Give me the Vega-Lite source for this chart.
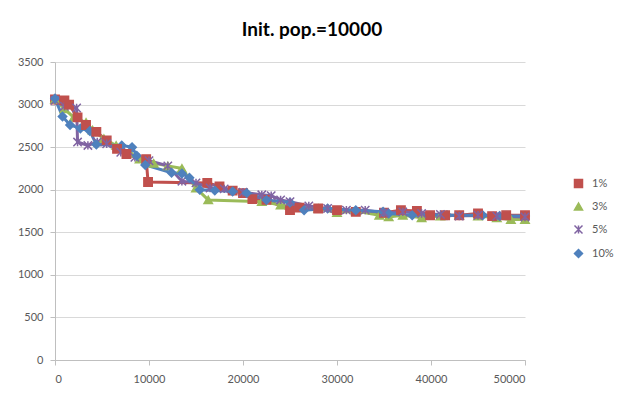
{
  "$schema": "https://vega.github.io/schema/vega-lite/v6.json",
  "width": 470,
  "height": 298,
  "autosize": {"type": "none"},
  "padding": {"left": 55, "top": 62, "right": 101, "bottom": 33},
  "background": "white",
  "title": {"text": "Init. pop.=10000", "font": "Lato", "fontSize": 19, "fontWeight": "bold", "color": "#000000", "anchor": "middle", "dx": 22, "offset": 16},
  "config": {
    "view": {"stroke": null},
    "axis": {"labelFont": "Lato", "labelFontSize": 11, "labelColor": "#595959", "domainColor": "#BFBFBF", "tickColor": "#BFBFBF", "gridColor": "#D9D9D9", "tickSize": 5, "title": null}
  },
  "data": {"values": [
    {"s":"1%","i":0,"x":0,"y":3060},{"s":"1%","i":1,"x":1000,"y":3050},{"s":"1%","i":2,"x":1500,"y":3000},{"s":"1%","i":3,"x":2400,"y":2850},{"s":"1%","i":4,"x":3300,"y":2760},{"s":"1%","i":5,"x":4400,"y":2680},{"s":"1%","i":6,"x":5500,"y":2580},{"s":"1%","i":7,"x":6600,"y":2480},{"s":"1%","i":8,"x":7600,"y":2420},{"s":"1%","i":9,"x":9700,"y":2360},{"s":"1%","i":10,"x":9900,"y":2090},{"s":"1%","i":11,"x":16200,"y":2080},{"s":"1%","i":12,"x":17500,"y":2040},{"s":"1%","i":13,"x":18900,"y":1990},{"s":"1%","i":14,"x":20000,"y":1960},{"s":"1%","i":15,"x":21000,"y":1890},{"s":"1%","i":16,"x":22500,"y":1880},{"s":"1%","i":17,"x":25000,"y":1760},{"s":"1%","i":18,"x":26000,"y":1790},{"s":"1%","i":19,"x":28000,"y":1780},{"s":"1%","i":20,"x":30000,"y":1760},{"s":"1%","i":21,"x":32000,"y":1740},{"s":"1%","i":22,"x":35000,"y":1730},{"s":"1%","i":23,"x":36800,"y":1760},{"s":"1%","i":24,"x":38500,"y":1750},{"s":"1%","i":25,"x":39900,"y":1700},{"s":"1%","i":26,"x":41500,"y":1700},{"s":"1%","i":27,"x":43000,"y":1700},{"s":"1%","i":28,"x":45000,"y":1720},{"s":"1%","i":29,"x":46500,"y":1690},{"s":"1%","i":30,"x":48000,"y":1700},{"s":"1%","i":31,"x":50000,"y":1700},
    {"s":"3%","i":0,"x":0,"y":3060},{"s":"3%","i":1,"x":1000,"y":2950},{"s":"3%","i":2,"x":2000,"y":2850},{"s":"3%","i":3,"x":3300,"y":2790},{"s":"3%","i":4,"x":4000,"y":2700},{"s":"3%","i":5,"x":5200,"y":2600},{"s":"3%","i":6,"x":6500,"y":2520},{"s":"3%","i":7,"x":8000,"y":2430},{"s":"3%","i":8,"x":9000,"y":2360},{"s":"3%","i":9,"x":10500,"y":2310},{"s":"3%","i":10,"x":12000,"y":2280},{"s":"3%","i":11,"x":13500,"y":2250},{"s":"3%","i":12,"x":15000,"y":2020},{"s":"3%","i":13,"x":16300,"y":1880},{"s":"3%","i":14,"x":22000,"y":1860},{"s":"3%","i":15,"x":24000,"y":1820},{"s":"3%","i":16,"x":26000,"y":1790},{"s":"3%","i":17,"x":28000,"y":1780},{"s":"3%","i":18,"x":30000,"y":1730},{"s":"3%","i":19,"x":32000,"y":1750},{"s":"3%","i":20,"x":34500,"y":1700},{"s":"3%","i":21,"x":35500,"y":1680},{"s":"3%","i":22,"x":37000,"y":1700},{"s":"3%","i":23,"x":39000,"y":1670},{"s":"3%","i":24,"x":41000,"y":1690},{"s":"3%","i":25,"x":43000,"y":1700},{"s":"3%","i":26,"x":45000,"y":1690},{"s":"3%","i":27,"x":47000,"y":1670},{"s":"3%","i":28,"x":48500,"y":1650},{"s":"3%","i":29,"x":50000,"y":1650},
    {"s":"5%","i":0,"x":0,"y":3050},{"s":"5%","i":1,"x":1000,"y":2980},{"s":"5%","i":2,"x":2300,"y":2960},{"s":"5%","i":3,"x":2400,"y":2560},{"s":"5%","i":4,"x":3500,"y":2520},{"s":"5%","i":5,"x":4500,"y":2560},{"s":"5%","i":6,"x":5500,"y":2540},{"s":"5%","i":7,"x":7000,"y":2440},{"s":"5%","i":8,"x":8500,"y":2380},{"s":"5%","i":9,"x":10000,"y":2340},{"s":"5%","i":10,"x":12000,"y":2280},{"s":"5%","i":11,"x":13500,"y":2100},{"s":"5%","i":12,"x":15000,"y":2080},{"s":"5%","i":13,"x":16500,"y":2020},{"s":"5%","i":14,"x":18000,"y":2010},{"s":"5%","i":15,"x":20000,"y":1970},{"s":"5%","i":16,"x":22000,"y":1940},{"s":"5%","i":17,"x":23000,"y":1930},{"s":"5%","i":18,"x":24000,"y":1880},{"s":"5%","i":19,"x":25000,"y":1860},{"s":"5%","i":20,"x":27000,"y":1810},{"s":"5%","i":21,"x":29000,"y":1780},{"s":"5%","i":22,"x":31000,"y":1760},{"s":"5%","i":23,"x":33000,"y":1760},{"s":"5%","i":24,"x":35000,"y":1730},{"s":"5%","i":25,"x":37000,"y":1740},{"s":"5%","i":26,"x":39000,"y":1720},{"s":"5%","i":27,"x":41000,"y":1710},{"s":"5%","i":28,"x":43000,"y":1690},{"s":"5%","i":29,"x":45000,"y":1700},{"s":"5%","i":30,"x":47000,"y":1690},{"s":"5%","i":31,"x":50000,"y":1680},
    {"s":"10%","i":0,"x":0,"y":3070},{"s":"10%","i":1,"x":800,"y":2860},{"s":"10%","i":2,"x":1600,"y":2760},{"s":"10%","i":3,"x":2700,"y":2720},{"s":"10%","i":4,"x":3700,"y":2690},{"s":"10%","i":5,"x":4400,"y":2530},{"s":"10%","i":6,"x":7100,"y":2520},{"s":"10%","i":7,"x":8200,"y":2500},{"s":"10%","i":8,"x":8700,"y":2400},{"s":"10%","i":9,"x":9600,"y":2290},{"s":"10%","i":10,"x":12400,"y":2200},{"s":"10%","i":11,"x":13500,"y":2190},{"s":"10%","i":12,"x":14300,"y":2140},{"s":"10%","i":13,"x":15400,"y":2000},{"s":"10%","i":14,"x":17000,"y":1990},{"s":"10%","i":15,"x":18900,"y":1980},{"s":"10%","i":16,"x":20400,"y":1960},{"s":"10%","i":17,"x":22500,"y":1880},{"s":"10%","i":18,"x":25000,"y":1850},{"s":"10%","i":19,"x":26500,"y":1760},{"s":"10%","i":20,"x":29000,"y":1780},{"s":"10%","i":21,"x":32000,"y":1760},{"s":"10%","i":22,"x":34900,"y":1740},{"s":"10%","i":23,"x":35500,"y":1720},{"s":"10%","i":24,"x":38000,"y":1700},{"s":"10%","i":25,"x":41700,"y":1700},{"s":"10%","i":26,"x":45500,"y":1700},{"s":"10%","i":27,"x":47300,"y":1690},{"s":"10%","i":28,"x":50000,"y":1690}
  ]},
  "encoding": {
    "x": {"field": "x", "type": "quantitative", "scale": {"domain": [0, 50000], "nice": false}, "axis": {"values": [0, 10000, 20000, 30000, 40000, 50000], "grid": false, "labelPadding": 8, "format": "d"}},
    "y": {"field": "y", "type": "quantitative", "scale": {"domain": [0, 3500], "nice": false}, "axis": {"values": [0, 500, 1000, 1500, 2000, 2500, 3000, 3500], "grid": true, "labelPadding": 7, "format": "d"}},
    "color": {"field": "s", "type": "nominal", "scale": {"domain": ["1%", "3%", "5%", "10%"], "range": ["#C0504D", "#9BBB59", "#8064A2", "#4F81BD"]}, "legend": {"orient": "none", "legendX": 518, "legendY": 116, "title": null, "labelFont": "Lato", "labelFontSize": 11, "labelColor": "#595959", "rowPadding": 9, "symbolSize": 64, "symbolStrokeWidth": 1.5, "labelOffset": 8}},
    "order": {"field": "i", "type": "quantitative"}
  },
  "layer": [
    {"mark": {"type": "line", "strokeWidth": 3}},
    {"mark": {"type": "point", "filled": true, "size": 70, "strokeWidth": 1.5, "opacity": 1},
     "encoding": {
       "shape": {"field": "s", "type": "nominal", "scale": {"domain": ["1%", "3%", "5%", "10%"], "range": ["square", "triangle-up", "M-1,-1L1,1M-1,1L1,-1M0,-1L0,1", "diamond"]}},
       "stroke": {"field": "s", "type": "nominal", "scale": {"domain": ["1%", "3%", "5%", "10%"], "range": ["#C0504D", "#9BBB59", "#8064A2", "#4F81BD"]}}
     }}
  ]
}
